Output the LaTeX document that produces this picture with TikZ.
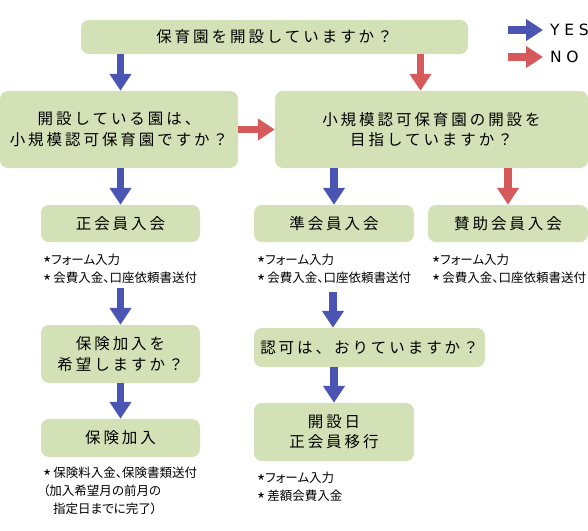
\documentclass[tikz,border=0pt]{standalone}
\usepackage{fontspec}
\setmainfont{Noto Sans CJK JP}
\newfontfamily\jpbox[LetterSpace=19]{Noto Sans CJK JP}
\newfontfamily\jpnote[RawFeature=+palt]{Noto Sans CJK JP}
\newfontfamily\legfont[LetterSpace=30]{DejaVu Sans}
\newcommand\notestar{\raisebox{-5.7pt}{\scalebox{1.4}{*}}}
\usetikzlibrary{arrows.meta,calc}
\definecolor{boxgreen}{HTML}{D4E0B6}
\definecolor{yesblue}{HTML}{4A55B3}
\definecolor{nored}{HTML}{D65A5C}
\begin{document}
\begin{tikzpicture}[x=1pt,y=-1pt,
  qbox/.style={fill=boxgreen, rounded corners=8pt, inner sep=0pt, align=center,
    font=\jpbox\fontsize{15.5}{20.5}\selectfont},
  notebox/.style={anchor=north west, inner sep=0pt, align=left,
    font=\jpnote\fontsize{12.5}{18}\selectfont},
  yesarrow/.style={draw=yesblue, fill=yesblue, line width=7.5pt, -{Triangle[width=21pt,length=17pt]}},
  noarrow/.style={draw=nored, fill=nored, line width=7.5pt, -{Triangle[width=21pt,length=17pt]}},
  legtext/.style={anchor=west, inner sep=0pt, font=\legfont\fontsize{15.5}{18}\selectfont}
]
\useasboundingbox (0,0) rectangle (588,530);

% boxes
\node[qbox, minimum width=387pt, minimum height=34pt] (top) at (274.5,37) {保育園を開設していますか？};
\node[qbox, minimum width=238pt, minimum height=77pt] (lq) at (119,129.5) {開設している園は、\\小規模認可保育園ですか？};
\node[qbox, minimum width=313pt, minimum height=77pt] (rq) at (431.5,129.5) {小規模認可保育園の開設を\\目指していますか？};
\node[qbox, minimum width=159pt, minimum height=37pt] (sei) at (120.5,223.5) {正会員入会};
\node[qbox, minimum width=160pt, minimum height=37pt] (jun) at (334,223.5) {準会員入会};
\node[qbox, minimum width=160pt, minimum height=37pt] (san) at (508,223.5) {賛助会員入会};
\node[qbox, minimum width=159pt, minimum height=58pt] (hq) at (120.5,354) {保険加入を\\希望しますか？};
\node[qbox, minimum width=159pt, minimum height=38pt] (hk) at (120.5,438) {保険加入};
\node[qbox, minimum width=231pt, minimum height=39pt] (nq) at (369.5,347.5) {認可は、おりていますか？};
\node[qbox, minimum width=160pt, minimum height=58pt] (kai) at (334,432) {開設日\\正会員移行};

% notes
\node[notebox] (n1) at (43,254) {\notestar フォーム入力\\\notestar\hspace{2pt}会費入金、口座依頼書送付};
\node[notebox] (n2) at (257,254) {\notestar フォーム入力\\\notestar\hspace{2pt}会費入金、口座依頼書送付};
\node[notebox] (n3) at (432,254) {\notestar フォーム入力\\\notestar\hspace{2pt}会費入金、口座依頼書送付};
\node[notebox] (n4) at (43,467) {\notestar\hspace{2pt}保険料入金、保険書類送付\\（加入希望月の前月の\\\hspace*{10pt}指定日までに完了）};
\node[notebox] (n5) at (257,472) {\notestar フォーム入力\\\notestar\hspace{2pt}差額会費入金};

% legend
\node[legtext] (yeslbl) at (550,30) {YES};
\node[legtext] (nolbl) at (550,57) {NO};
\coordinate (ly1) at (508,30);
\coordinate (ly2) at (543,30);
\coordinate (ln1) at (508,57);
\coordinate (ln2) at (543,57);
\draw[yesarrow] (ly1) -- (ly2);
\draw[noarrow] (ln1) -- (ln2);

% connectors
\coordinate (xa) at (120.5,0);
\coordinate (xb) at (420.5,0);
\draw[yesarrow] (top.south -| xa) -- (lq.north -| xa);
\draw[noarrow] (top.south -| xb) -- (rq.north -| xb);
\draw[noarrow] (lq.east) -- (rq.west);
\draw[yesarrow] (lq.south -| sei.north) -- (sei.north);
\draw[yesarrow] (rq.south -| jun.north) -- (jun.north);
\draw[noarrow] (rq.south -| san.north) -- (san.north);
\coordinate (s1) at (120.5,288);
\draw[yesarrow] (s1) -- (hq.north);
\draw[yesarrow] (hq.south) -- (hk.north);
\coordinate (s2) at (333,292);
\draw[yesarrow] (s2) -- (nq.north -| s2);
\draw[yesarrow] (nq.south -| kai.north) -- (kai.north);
\end{tikzpicture}
\end{document}
